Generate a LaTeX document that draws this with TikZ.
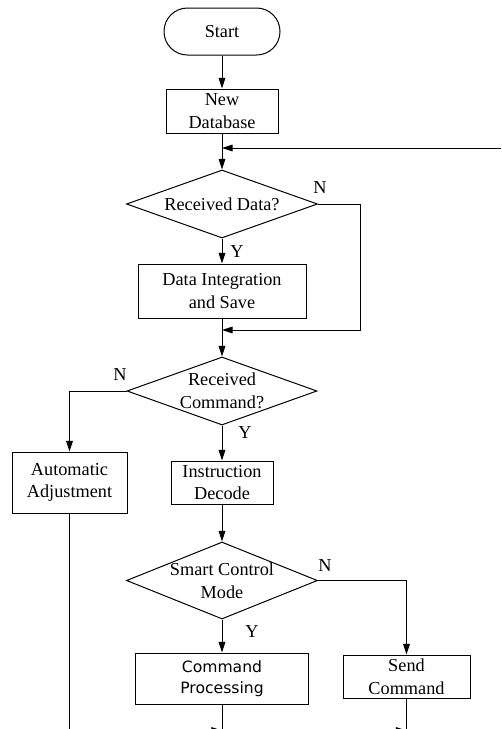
\documentclass[tikz,border=0pt]{standalone}
\usepackage{fontspec}
\setmainfont{Liberation Serif}
\newfontfamily\cpsans{DejaVu Sans}
\usetikzlibrary{shapes.geometric,arrows.meta}
\begin{document}
\begin{tikzpicture}[x=0.75pt,y=-0.75pt,
  every node/.style={font=\fontsize{13.7}{17}\selectfont, align=center},
  box/.style={draw, line width=0.75pt, inner sep=0pt},
  dia/.style={draw, diamond, line width=0.75pt, inner sep=0pt},
  arr/.style={-{Triangle[length=8pt,width=5pt]}, line width=0.75pt},
  ln/.style={line width=0.75pt},
  yn/.style={inner sep=0pt}
]
\useasboundingbox (0,0) rectangle (501,729);
\clip (0,0) rectangle (501,729);

\node[box, rounded corners=17.6pt, minimum width=87pt, minimum height=35.25pt] (start) at (222,31.5) {Start};
\node[box, minimum width=84pt, minimum height=33pt] (newdb) at (222,111) {New\\Database};
\node[dia, minimum width=143.25pt, minimum height=51pt, label={center:Received Data?}] (recv) at (222,204) {};
\node[box, minimum width=126pt, minimum height=40.5pt] (integ) at (222,291) {Data Integration\\and Save};
\node[dia, minimum width=142.5pt, minimum height=51pt, label={center:Received\\Command?}] (recvcmd) at (222,391) {};
\node[box, minimum width=86.25pt, minimum height=45.75pt] (auto) at (69.5,482.5) {Automatic\\Adjustment};
\node[box, minimum width=76.5pt, minimum height=32.25pt] (decode) at (222,482.5) {Instruction\\Decode};
\node[dia, minimum width=143.25pt, minimum height=57.75pt, label={center:Smart Control\\Mode}] (smart) at (222,580.5) {};
\node[box, minimum width=129.75pt, minimum height=38.25pt, font=\cpsans\fontsize{11.7}{15.8}\selectfont] (cmdproc) at (222,678.5) {Command\\Processing};
\node[box, minimum width=95.25pt, minimum height=32.25pt] (send) at (406.5,676.5) {Send\\Command};

% labels
\node[yn] (n1) at (320,188) {N};
\node[yn] (y1) at (237,252) {Y};
\node[yn] (n2) at (120,375) {N};
\node[yn] (y2) at (245,433) {Y};
\node[yn] (n3) at (325,566) {N};
\node[yn] (y3) at (252,632) {Y};

% coordinates
\coordinate (fb) at (501,148);
\coordinate (rc) at (360,330);
\coordinate (bot) at (0,745);
\coordinate (ya) at (0,730.5);

% connectors
\draw[arr] (start) -- (newdb);
\draw[arr] (newdb) -- (recv);
\draw[arr] (fb) -- (newdb.south |- fb);
\draw[arr] (recv) -- (integ);
\draw[arr] (recv.east) -| (rc) -- (integ.south |- rc);
\draw[arr] (integ) -- (recvcmd);
\draw[arr] (recvcmd.west) -| (auto.north);
\draw[arr] (recvcmd) -- (decode);
\draw[arr] (decode) -- (smart);
\draw[arr] (smart) -- (cmdproc);
\draw[arr] (smart.east) -| (send.north);
\draw[ln] (auto.south) -- (auto.south |- bot);
\draw[ln] (cmdproc.south) -- (cmdproc.south |- bot);
\draw[ln] (send.south) -- (send.south |- bot);
\draw[arr] (auto.south |- ya) -- (cmdproc.south |- ya);
\draw[arr] (cmdproc.south |- ya) -- (send.south |- ya);
\end{tikzpicture}
\end{document}
